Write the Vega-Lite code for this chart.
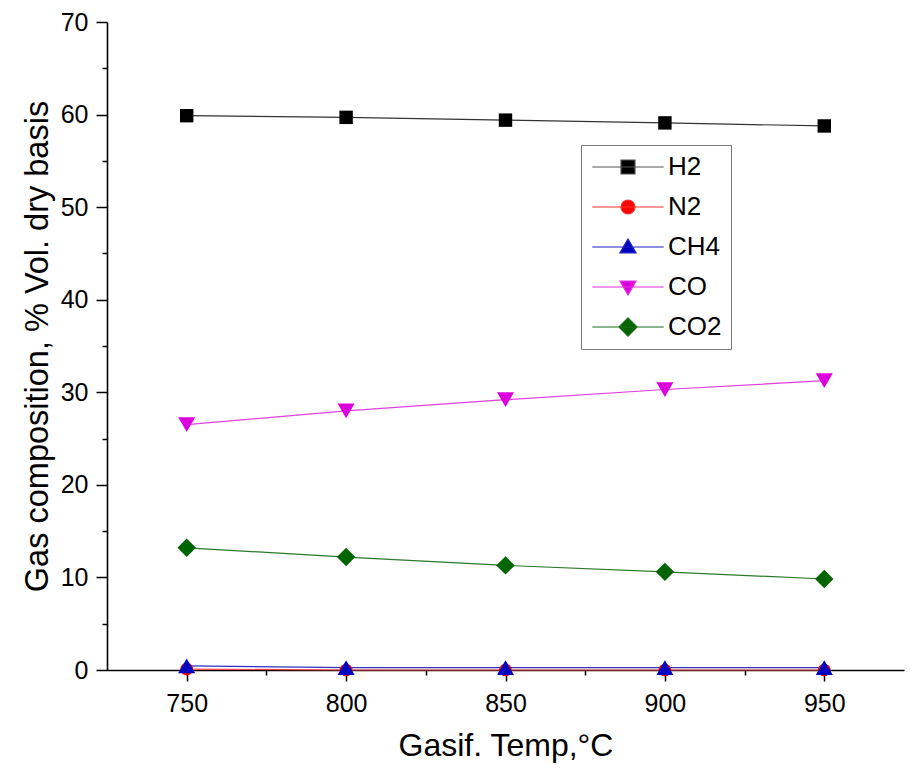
{
  "$schema": "https://vega.github.io/schema/vega-lite/v6.json",
  "width": 797,
  "height": 648,
  "autosize": {"type": "none"},
  "padding": {"left": 107, "top": 22, "right": 9, "bottom": 102},
  "background": "white",
  "config": {
    "view": {"stroke": null},
    "font": "Liberation Sans",
    "axis": {
      "grid": false,
      "domainColor": "black",
      "tickColor": "black",
      "labelColor": "black",
      "titleColor": "black",
      "domainWidth": 1.6,
      "tickWidth": 1.5,
      "labelFontSize": 25,
      "labelFont": "Liberation Sans",
      "titleFont": "Liberation Sans",
      "titleFontWeight": "normal"
    },
    "legend": {
      "title": null,
      "orient": "none",
      "legendX": 474,
      "legendY": 123,
      "padding": 9,
      "strokeColor": "#777777",
      "fillColor": "white",
      "labelFont": "Liberation Sans",
      "labelFontSize": 26,
      "labelColor": "black",
      "labelLimit": 300,
      "symbolSize": 196,
      "symbolOffset": 25,
      "labelOffset": 27,
      "rowPadding": 14,
      "symbolStrokeWidth": 1.2,
      "symbolOpacity": 1
    }
  },
  "data": {
    "values": [
      {"gas": "H2", "temp": 750, "pct": 59.88},
      {"gas": "H2", "temp": 800, "pct": 59.7},
      {"gas": "H2", "temp": 850, "pct": 59.4},
      {"gas": "H2", "temp": 900, "pct": 59.1},
      {"gas": "H2", "temp": 950, "pct": 58.77},
      {"gas": "N2", "temp": 750, "pct": 0.1},
      {"gas": "N2", "temp": 800, "pct": 0.0},
      {"gas": "N2", "temp": 850, "pct": 0.0},
      {"gas": "N2", "temp": 900, "pct": 0.0},
      {"gas": "N2", "temp": 950, "pct": 0.0},
      {"gas": "CH4", "temp": 750, "pct": 0.45},
      {"gas": "CH4", "temp": 800, "pct": 0.25},
      {"gas": "CH4", "temp": 850, "pct": 0.25},
      {"gas": "CH4", "temp": 900, "pct": 0.25},
      {"gas": "CH4", "temp": 950, "pct": 0.25},
      {"gas": "CO", "temp": 750, "pct": 26.5},
      {"gas": "CO", "temp": 800, "pct": 28.0},
      {"gas": "CO", "temp": 850, "pct": 29.2},
      {"gas": "CO", "temp": 900, "pct": 30.3},
      {"gas": "CO", "temp": 950, "pct": 31.25},
      {"gas": "CO2", "temp": 750, "pct": 13.2},
      {"gas": "CO2", "temp": 800, "pct": 12.2},
      {"gas": "CO2", "temp": 850, "pct": 11.3},
      {"gas": "CO2", "temp": 900, "pct": 10.6},
      {"gas": "CO2", "temp": 950, "pct": 9.83}
    ]
  },
  "encoding": {
    "x": {
      "field": "temp",
      "type": "quantitative",
      "scale": {"domain": [725, 975], "nice": false, "zero": false},
      "axis": {
        "title": "Gasif. Temp,°C",
        "values": [750, 775, 800, 825, 850, 875, 900, 925, 950],
        "labelExpr": "datum.value % 50 === 0 ? datum.label : ''",
        "tickSize": {"condition": {"test": "datum.value % 50 === 0", "value": 11}, "value": 5},
        "labelPadding": 10,
        "titleFontSize": 32,
        "titlePadding": 14
      }
    },
    "y": {
      "field": "pct",
      "type": "quantitative",
      "scale": {"domain": [0, 70], "nice": false},
      "axis": {
        "title": "Gas composition, % Vol. dry basis",
        "values": [0, 5, 10, 15, 20, 25, 30, 35, 40, 45, 50, 55, 60, 65, 70],
        "labelExpr": "datum.value % 10 === 0 ? datum.label : ''",
        "tickSize": {"condition": {"test": "datum.value % 10 === 0", "value": 11}, "value": 5},
        "labelPadding": 8,
        "titleFontSize": 32.5,
        "titlePadding": 6
      }
    }
  },
  "resolve": {"scale": {"color": "independent", "shape": "independent", "stroke": "independent"}},
  "layer": [
    {
      "mark": {"type": "line", "strokeWidth": 1.2},
      "encoding": {
        "stroke": {
          "field": "gas",
          "type": "nominal",
          "scale": {"domain": ["CO2", "CO", "CH4", "N2", "H2"], "range": ["#2a7a2a", "#e040e0", "#3030c0", "#ff4040", "#333333"]},
          "legend": null
        }
      }
    },
    {
      "mark": {"type": "point", "filled": true, "opacity": 1},
      "encoding": {
        "color": {
          "field": "gas",
          "type": "nominal",
          "scale": {"domain": ["CO2", "CO", "CH4", "N2", "H2"], "range": ["#006400", "#dd00dd", "#0000c0", "#ff0000", "#000000"]},
          "legend": null
        },
        "shape": {
          "field": "gas",
          "type": "nominal",
          "scale": {"domain": ["CO2", "CO", "CH4", "N2", "H2"], "range": ["diamond", "triangle-down", "triangle-up", "circle", "square"]},
          "legend": null
        },
        "size": {
          "condition": [
            {"test": "datum.gas === 'H2'", "value": 180},
            {"test": "datum.gas === 'N2'", "value": 160},
            {"test": "datum.gas === 'CO2'", "value": 340}
          ],
          "value": 290
        }
      }
    },
    {
      "transform": [{"filter": "datum.pct < -100"}],
      "mark": {"type": "point", "filled": true, "opacity": 1},
      "encoding": {
        "color": {
          "field": "gas",
          "type": "nominal",
          "scale": {"domain": ["H2", "N2", "CH4", "CO", "CO2"], "range": ["#000000", "#ff0000", "#0000c0", "#dd00dd", "#006400"]}
        },
        "stroke": {
          "field": "gas",
          "type": "nominal",
          "scale": {"domain": ["H2", "N2", "CH4", "CO", "CO2"], "range": ["#555555", "#ff3030", "#2020c0", "#e030e0", "#1a701a"]}
        },
        "shape": {
          "field": "gas",
          "type": "nominal",
          "scale": {"domain": ["H2", "N2", "CH4", "CO", "CO2"], "range": ["M-5.1,0H5.1M-1,-1H1V1H-1Z", "M-5.1,0H5.1M-1,0A1,1 0 1,0 1,0A1,1 0 1,0 -1,0Z", "M-5.1,0H5.1M0,-1.15L1.15,0.85H-1.15Z", "M-5.1,0H5.1M0,1.15L1.15,-0.85H-1.15Z", "M-5.1,0H5.1M0,-1.3L1.3,0L0,1.3L-1.3,0Z"]}
        }
      }
    }
  ]
}
